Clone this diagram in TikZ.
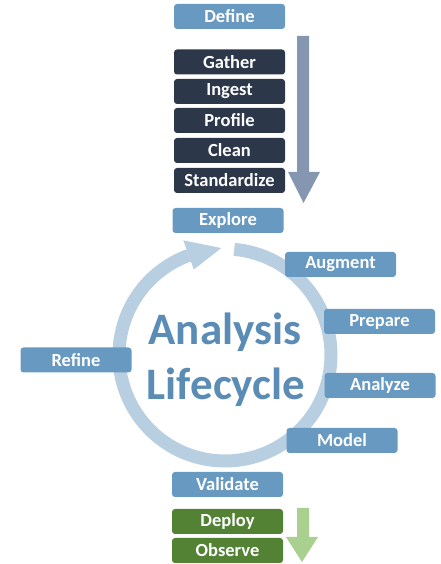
\documentclass[tikz,border=0pt]{standalone}
\usepackage{fontspec}
\setmainfont{Carlito}
\usepackage{tikz}
\usepackage{xcolor}

\definecolor{stepblue}{RGB}{104,153,193}
\definecolor{titleblue}{RGB}{90,140,182}
\definecolor{stepdark}{RGB}{44,55,74}
\definecolor{flowgray}{RGB}{132,150,176}
\definecolor{ringblue}{RGB}{184,206,225}
\definecolor{stepgreen}{RGB}{84,130,53}
\definecolor{flowgreen}{RGB}{169,208,142}

\tikzset{
  stepbox/.style={rectangle,rounded corners=3pt,minimum width=111pt,minimum height=25pt,
    inner sep=0pt,text=white,font=\fontsize{18.5}{20}\selectfont\bfseries},
  bluebox/.style={stepbox,fill=stepblue},
  darkbox/.style={stepbox,fill=stepdark},
  greenbox/.style={stepbox,fill=stepgreen},
  bigtitle/.style={text=titleblue,font=\fontsize{45}{55}\selectfont\bfseries,inner sep=0pt,anchor=base}
}

\begin{document}
\begin{tikzpicture}[x=1pt,y=1pt]
        \useasboundingbox (0,0) rectangle (441,564);
        % preparation arrow
        \fill[flowgray] (297,528) -- (309,528) -- (309,392) -- (320,392) -- (303.5,361) -- (288,392) -- (297,392) -- cycle;
        % release arrow
        \fill[flowgreen] (297,56) -- (309,56) -- (309,27) -- (318,27) -- (302,2) -- (286,27) -- (297,27) -- cycle;
        % lifecycle ring
        \coordinate (hub) at (225,209);
        \draw[ringblue,line width=13pt] ([shift={(85:106)}]hub) arc[start angle=85,end angle=-250,radius=106];
        \fill[ringblue] ([shift={(110:91)}]hub) -- ([shift={(110:122)}]hub) -- ([shift={(92:107)}]hub) -- cycle;
        \node[bigtitle] (title1) at (225,219) {Analysis};
        \node[bigtitle] (title2) at (226,164) {Lifecycle};
        % steps
        \node[bluebox] (define) at (229.5,547.5) {Define};
        \node[darkbox] (gather) at (229.5,502) {Gather};
        \node[darkbox] (ingest) at (229.5,472.5) {Ingest};
        \node[darkbox] (profile) at (229.5,443.5) {Profile};
        \node[darkbox] (clean) at (229.5,413.5) {Clean};
        \node[darkbox] (standardize) at (229.5,383.5) {Standardize};
        \node[bluebox] (explore) at (228,343.5) {Explore};
        \node[bluebox] (augment) at (340.5,299.5) {Augment};
        \node[bluebox] (prepare) at (379.5,242.5) {Prepare};
        \node[bluebox] (analyze) at (380,178.5) {Analyze};
        \node[bluebox] (model) at (342,123.5) {Model};
        \node[bluebox] (validate) at (227.5,79.5) {Validate};
        \node[bluebox] (refine) at (76,204) {Refine};
        \node[greenbox] (deploy) at (227.5,42.5) {Deploy};
        \node[greenbox] (observe) at (227.5,13.5) {Observe};
\end{tikzpicture}
\end{document}
